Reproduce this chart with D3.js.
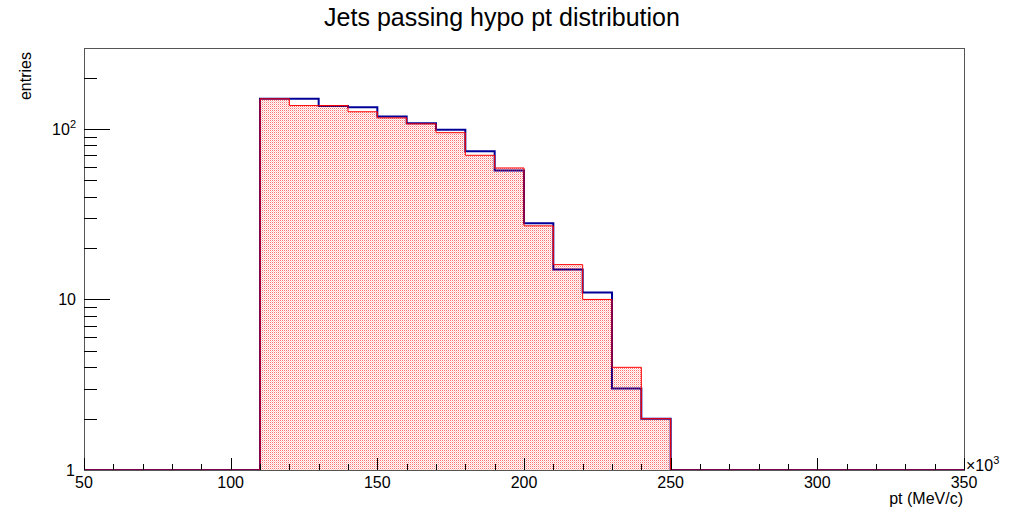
<!DOCTYPE html>
<html>
<head>
<meta charset="utf-8">
<script src="https://cdn.jsdelivr.net/npm/d3@7"></script>
<style>
  html, body { margin: 0; padding: 0; background: #fff; }
  svg { display: block; font-family: "Liberation Sans", Arial, sans-serif; }
</style>
</head>
<body>
<svg id="chart" width="1014" height="511"></svg>
<script>
// Histogram bins (lower edges, width 10 in units of 10^3 MeV/c)
const binLow = [110, 120, 130, 140, 150, 160, 170, 180, 190, 200, 210, 220, 230, 240];
const binWidth = 10;
// Entries per bin for the two overlaid distributions
const blueCounts = [150, 150, 136, 134, 118, 108, 99, 74, 57, 28, 15, 11, 3, 2];
const redCounts  = [150, 137, 137, 126, 116, 107, 95, 70, 59, 27, 16, 10, 4, 2];
// Axis ranges and ticks
const xRange = [50, 350];
const yRange = [1, 298];
const xMajorTicks = [50, 100, 150, 200, 250, 300, 350];
const xMinorTicks = [60, 70, 80, 90, 110, 120, 130, 140, 160, 170, 180, 190, 210, 220, 230, 240, 260, 270, 280, 290, 310, 320, 330, 340];
const yMajorTicks = [1, 10, 100];
const yMinorTicks = [2, 3, 4, 5, 6, 7, 8, 9, 20, 30, 40, 50, 60, 70, 80, 90, 200];

const svg = d3.select("#chart");
const frame = { left: 84, right: 964, top: 48, bottom: 470 };

const x = d3.scaleLinear().domain(xRange).range([frame.left, frame.right]);
const y = d3.scaleLog().domain(yRange).range([frame.bottom, frame.top]);

// Sparse dotted fill pattern for the red histogram
const defs = svg.append("defs");
const pat = defs.append("pattern")
  .attr("id", "dots").attr("patternUnits", "userSpaceOnUse")
  .attr("width", 2).attr("height", 2);
pat.append("rect").attr("x", 0).attr("y", 0).attr("width", 1).attr("height", 1)
  .attr("fill", "#ff0000").attr("opacity", 0.55);
pat.append("rect").attr("x", 1).attr("y", 1).attr("width", 1).attr("height", 1)
  .attr("fill", "#ff0000").attr("opacity", 0.2);

// Step outline across the whole axis range; empty bins sit on the frame bottom
function stepPoints(counts) {
  const pts = [[x(xRange[0]), frame.bottom]];
  binLow.forEach((lo, i) => {
    const yy = y(Math.max(counts[i], yRange[0]));
    pts.push([x(lo), i === 0 ? frame.bottom : pts[pts.length - 1][1]]);
    pts.push([x(lo), yy]);
    pts.push([x(lo + binWidth), yy]);
  });
  const hi = binLow[binLow.length - 1] + binWidth;
  pts.push([x(hi), frame.bottom]);
  pts.push([x(xRange[1]), frame.bottom]);
  return pts;
}
const line = d3.line();

// Blue histogram (outline only)
svg.append("path")
  .attr("d", line(stepPoints(blueCounts)))
  .attr("fill", "none")
  .attr("stroke", "#000099")
  .attr("stroke-width", 2);

// Red histogram: dotted fill plus outline
const redPts = stepPoints(redCounts);
const fillPts = redPts.slice(1, redPts.length - 1);
svg.append("path")
  .attr("d", line(fillPts) + "Z")
  .attr("fill", "url(#dots)")
  .attr("stroke", "none");
svg.append("path")
  .attr("d", line(redPts))
  .attr("fill", "none")
  .attr("stroke", "#ff0000")
  .attr("stroke-width", 1);

// Frame
svg.append("rect")
  .attr("x", frame.left + 0.5).attr("y", frame.top + 0.5)
  .attr("width", frame.right - frame.left).attr("height", frame.bottom - frame.top)
  .attr("fill", "none").attr("stroke", "#555").attr("stroke-width", 1);

// X axis ticks (inside, pointing up)
const axisG = svg.append("g").attr("stroke", "#000").attr("stroke-width", 1);
xMajorTicks.forEach(v => {
  axisG.append("line").attr("x1", Math.round(x(v)) + 0.5).attr("x2", Math.round(x(v)) + 0.5)
    .attr("y1", frame.bottom).attr("y2", frame.bottom - 12);
});
xMinorTicks.forEach(v => {
  axisG.append("line").attr("x1", Math.round(x(v)) + 0.5).attr("x2", Math.round(x(v)) + 0.5)
    .attr("y1", frame.bottom).attr("y2", frame.bottom - 6);
});
// Y axis ticks (inside, pointing right)
yMajorTicks.forEach(v => {
  if (v === yRange[0]) return;
  axisG.append("line").attr("x1", frame.left).attr("x2", frame.left + 26)
    .attr("y1", Math.round(y(v)) + 0.5).attr("y2", Math.round(y(v)) + 0.5);
});
yMinorTicks.forEach(v => {
  axisG.append("line").attr("x1", frame.left).attr("x2", frame.left + 13)
    .attr("y1", Math.round(y(v)) + 0.5).attr("y2", Math.round(y(v)) + 0.5);
});

// X tick labels
svg.append("g").selectAll("text").data(xMajorTicks).join("text")
  .attr("x", d => x(d)).attr("y", 488)
  .attr("text-anchor", "middle").attr("font-size", 16).attr("fill", "#000")
  .text(d => d);

// Y tick labels
const yLab = svg.append("g").attr("font-size", 16).attr("fill", "#000").attr("text-anchor", "end");
yLab.append("text").attr("x", 75).attr("y", y(1) + 6).text("1");
yLab.append("text").attr("x", 76).attr("y", y(10) + 6).text("10");
const t100 = yLab.append("text").attr("x", 76).attr("y", y(100) + 6);
t100.append("tspan").text("10");
t100.append("tspan").attr("font-size", 11).attr("dy", -7).text("2");

// Axis multiplier
const mult = svg.append("text").attr("x", 966).attr("y", 471).attr("font-size", 16).attr("fill", "#000");
mult.append("tspan").text("\u00d710");
mult.append("tspan").attr("font-size", 11).attr("dy", -7).text("3");

// Axis titles
svg.append("text").attr("x", 963).attr("y", 504)
  .attr("text-anchor", "end").attr("font-size", 16).attr("fill", "#000")
  .text("pt (MeV/c)");
svg.append("text")
  .attr("transform", "translate(31,52) rotate(-90)")
  .attr("text-anchor", "end").attr("font-size", 16).attr("fill", "#000")
  .text("entries");

// Title
svg.append("text").attr("x", 502).attr("y", 26)
  .attr("text-anchor", "middle").attr("font-size", 25).attr("fill", "#000")
  .text("Jets passing hypo pt distribution");
</script>
</body>
</html>
